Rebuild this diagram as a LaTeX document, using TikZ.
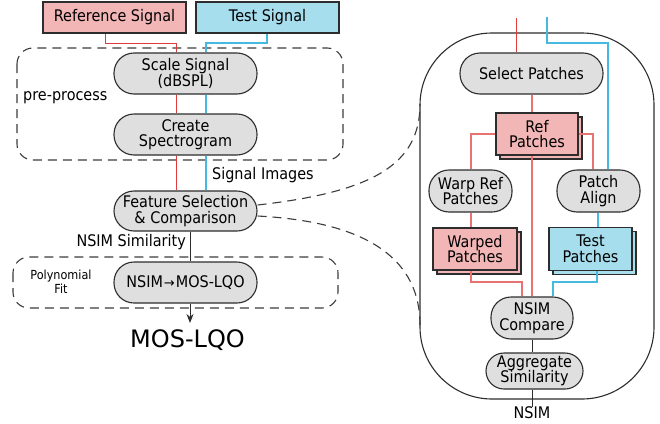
\documentclass[tikz,border=0pt]{standalone}
\usepackage{fontspec}
\setmainfont{DejaVu Sans}[FakeStretch=0.9]
\newfontfamily\bigfont{DejaVu Sans}
\usetikzlibrary{arrows.meta,shadows}
\definecolor{refc}{RGB}{242,182,182}
\definecolor{testc}{RGB}{166,222,238}
\definecolor{redl}{RGB}{222,60,60}
\definecolor{redl2}{RGB}{232,115,115}
\definecolor{bluel}{RGB}{70,185,222}
\definecolor{nodegray}{RGB}{223,223,223}
\definecolor{bord}{RGB}{45,45,45}
\definecolor{dashc}{RGB}{60,60,60}
\begin{document}
\begin{tikzpicture}[x=1pt,y=-1pt,
  font=\fontsize{16}{15.5}\selectfont,
  every node/.style={inner sep=0pt},
  proc/.style={draw=bord, line width=1.1pt, fill=nodegray, rounded corners=#1, align=center},
  sigbox/.style={draw=bord, line width=1.1pt, minimum width=143pt, minimum height=31pt},
  stackbox/.style={draw=bord, line width=1.1pt, align=center,
     copy shadow={shadow xshift=4pt, shadow yshift=-4pt}},
  redline/.style={draw=redl, line width=1pt},
  redlineb/.style={draw=redl2, line width=1.1pt},
  blueline/.style={draw=bluel, line width=1.1pt},
  blkline/.style={draw=bord, line width=1pt},
  dsh/.style={draw=dashc, line width=1.1pt, dash pattern=on 9pt off 6pt}
]
\fill[white] (0,0) rectangle (660,423);
\useasboundingbox (0,0) rectangle (660,423);

% ---------- left column ----------
\node[sigbox, fill=refc] (refsig) at (114.5,17.5) {Reference Signal};
\node[sigbox, fill=testc] (testsig) at (267.5,17.5) {Test Signal};

\draw[dsh, rounded corners=16pt] (17,48) rectangle (343,160);
\node[anchor=west] (pre) at (23,98) {pre-process};

\node[proc=20pt, minimum width=143pt, minimum height=41pt] (scale) at (185.5,73.5) {Scale Signal\\(dBSPL)};
\node[proc=20pt, minimum width=143pt, minimum height=41pt] (spectro) at (185.5,134.5) {Create\\Spectrogram};
\node[proc=20pt, minimum width=143pt, minimum height=40pt] (feature) at (185.5,211) {Feature Selection\\\& Comparison};

\node[anchor=west] (sigimg) at (212,175) {Signal Images};
\node[anchor=east] (nsimsim) at (186,242) {NSIM Similarity};

\draw[dsh, rounded corners=16pt] (13,257) rectangle (338,308);
\node[align=center, font=\fontsize{12.5}{14}\selectfont] (poly) at (61,282) {Polynomial\\Fit};
\node[proc=20pt, minimum width=143pt, minimum height=41pt] (nsimmos) at (185.5,282.5) {NSIM\kern1pt{\bigfont\fontsize{13}{14}\selectfont→}\kern1ptMOS-LQO};
\node[font={\bigfont\fontsize{24}{28}\selectfont}] (mos) at (187.5,340) {MOS-LQO};
\coordinate (arrowend) at (190,323);

\draw[redline] (refsig.south -| 105,0) |- (176,43) -- (scale.north -| 176,0);
\draw[redline] (scale.south -| 176,0) -- (spectro.north -| 176,0);
\draw[redline] (spectro.south -| 176,0) -- (feature.north -| 176,0);
\draw[blueline] (testsig.south -| 267,0) |- (206,43) -- (scale.north -| 206,0);
\draw[blueline] (scale.south -| 206,0) -- (spectro.north -| 206,0);
\draw[blueline] (spectro.south -| 206,0) -- (feature.north -| 206,0);
\draw[blkline] (feature.south -| 190,0) -- (nsimmos.north -| 190,0);
\draw[blkline, -{Stealth[length=9pt,width=7pt]}] (nsimmos.south -| 190,0) -- (arrowend);

% ---------- right detail ----------
\draw[draw=bord, line width=1.1pt, rounded corners=72pt] (420,33) rectangle (654,399);

\draw[dsh] (feature.east |- 0,205) .. controls (372,192) and (420,165) .. (420,104);
\draw[dsh] (feature.east |- 0,216) .. controls (372,222) and (420,262) .. (420,325);

\node[proc=20pt, minimum width=143pt, minimum height=41pt] (select) at (531.5,73.5) {Select Patches};
\node[stackbox, fill=refc, minimum width=82pt, minimum height=42pt] (refp) at (537,134) {Ref\\Patches};
\node[proc=20pt, minimum width=83pt, minimum height=42pt] (warp) at (470.5,191) {Warp Ref\\Patches};
\node[proc=20pt, minimum width=83pt, minimum height=42pt] (align) at (598.5,191) {Patch\\Align};
\node[stackbox, fill=refc, minimum width=84pt, minimum height=42pt] (warped) at (475,249) {Warped\\Patches};
\node[stackbox, fill=testc, minimum width=83pt, minimum height=43pt] (testp) at (590.5,249) {Test\\Patches};
\node[proc=20pt, minimum width=82pt, minimum height=42pt] (compare) at (532,318) {NSIM\\Compare};
\node[proc=18pt, minimum width=97pt, minimum height=36pt] (aggr) at (534.5,371) {Aggregate\\Similarity};
\node (nsimout) at (532,413) {NSIM};

\coordinate (rtop) at (516,18);
\coordinate (btop) at (547,17);
\draw[redline] (rtop) -- (select.north -| 516,0);
\draw[blueline] (btop) |- (608,43) -- (align.north -| 608,0);
\draw[redlineb] (select.south -| 532,0) -- (refp.north -| 532,0);
\draw[redlineb] (refp.west) -| (warp.north -| 471,0);
\draw[redlineb] (refp.east) -| (align.north -| 593,0);
\draw[redlineb] (refp.south -| 532,0) -- (compare.north -| 532,0);
\draw[redlineb] (warp.south -| 471,0) -- (warped.north -| 471,0);
\draw[blueline] (align.south -| 598,0) -- (testp.north -| 598,0);
\draw[redlineb] (warped.south -| 471,0) |- (522,282) -- (compare.north -| 522,0);
\draw[blueline] (testp.south -| 597,0) |- (553,282) -- (compare.north -| 553,0);
\draw[blkline] (compare.south -| 532,0) -- (aggr.north -| 532,0);
\draw[blkline] (aggr.south -| 532,0) -- (nsimout.north);
\end{tikzpicture}
\end{document}
